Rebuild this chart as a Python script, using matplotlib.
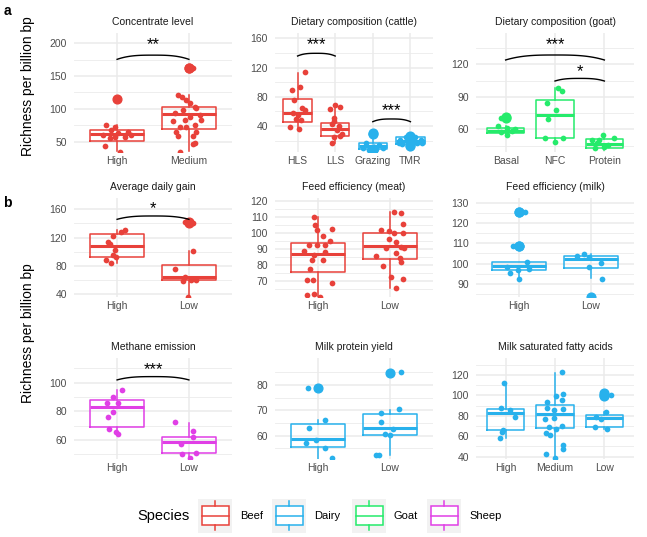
import numpy as np
import matplotlib
matplotlib.use("Agg")
import matplotlib.pyplot as plt
from matplotlib.patches import Rectangle

plt.rcParams["font.family"] = ["Liberation Sans", "DejaVu Sans"]

W, H = 647, 537

species_names = ["Beef", "Dairy", "Goat", "Sheep"]
species_colors = ["#E8413A", "#28B1EC", "#25EB6B", "#E03FE6"]

# box stats per group: q1, median, q3, lower whisker, upper whisker

# a1 Concentrate level
conc_groups = ["High", "Medium"]
conc_species = ["Beef", "Beef"]
conc_box = [[51.5, 61.0, 67.8, 36.0, 76.0], [69.0, 92.0, 103.0, 35.0, 121.0]]
conc_outliers = [[114.5], [163.0, 162.0]]
conc_values = [[114.5, 75.5, 73, 68, 65.3, 62.7, 60.2, 57.6, 57.6, 55, 43.9, 34.7, 60.2],
               [163, 162, 121.2, 118.6, 113.6, 109.5, 103.4, 100.8, 98.3, 93.2, 90.7, 88.1, 83, 82,
                83, 75.4, 72.9, 72.9, 65.3, 65.3, 58.6, 58.6, 48.5, 46.4, 34.7]]
conc_jitter = [[0.0, -0.16, -0.03, -0.08, 0.15, 0.01, -0.19, 0.11, -0.03, -0.10, -0.17, 0.04, 0.2],
               [-0.01, 0.05, -0.15, -0.09, -0.04, 0.01, 0.08, 0.10, -0.08, -0.19, 0.16, 0.02, -0.06, -0.22,
                0.17, 0.08, -0.13, -0.04, -0.18, 0.10, -0.15, 0.06, 0.08, 0.05, -0.13]]
conc_signif = [(0, 1, 175.6, 182.0, 198.5, "**")]

# a2 Dietary composition (cattle)
cattle_groups = ["HLS", "LLS", "Grazing", "TMR"]
cattle_species = ["Beef", "Beef", "Dairy", "Dairy"]
cattle_box = [[46, 57.3, 77, 36, 113], [26, 35.4, 44.5, 17, 70],
              [8.1, 13, 17.2, 5, 22], [15.4, 20, 24.5, 12, 27]]
cattle_outliers = [[], [], [31, 29, 8, 7], [26.5, 25, 14, 13]]
cattle_values = [[114, 94, 89, 76, 64, 62, 55, 50, 48, 39, 36, 58],
                 [69, 66, 63, 51, 47, 43, 40, 34, 29, 25, 17, 26],
                 [31, 29, 17.2, 14, 9.4, 11.7, 9.4, 7.1, 8],
                 [20.8, 25.3, 27.6, 24.5, 20.8, 15.4, 11.7, 16.3, 17.2, 18.6, 17.2]]
cattle_jitter = [[0.2, 0.06, -0.16, -0.1, 0.11, 0.2, 0.02, -0.04, 0.09, -0.2, 0.04, -0.12],
                 [0, 0.13, -0.15, -0.04, -0.02, -0.09, 0.1, 0.04, 0.18, -0.04, -0.09, 0.13],
                 [0, -0.04, -0.18, 0.16, -0.25, 0.02, 0.27, -0.09, 0.09],
                 [-0.27, -0.13, 0, 0.13, 0.27, -0.22, -0.04, 0.18, 0.3, 0.04, -0.3]]
cattle_signif = [(0, 1, 135.8, 139.5, 150.9, "***"), (2, 3, 45.9, 49.6, 61.0, "***")]

# a3 Dietary composition (goat)
goat_groups = ["Basal", "NFC", "Protein"]
goat_species = ["Goat", "Goat", "Goat"]
goat_box = [[56.3, 58.8, 61.5, 54.5, 63.5], [51.7, 73.2, 87, 48, 98], [42.5, 46.5, 51.4, 41, 55]]
goat_outliers = [[71.7, 70.5], [], []]
goat_values = [[71.7, 70.5, 63, 61, 58, 58.5, 54.8, 60],
               [98, 95.4, 84, 78, 69.5, 51.7, 48, 52.3],
               [54.8, 51.7, 50, 47, 44, 42.5, 46, 50]]
goat_jitter = [[0, -0.09, -0.16, 0.03, -0.09, 0.12, 0.03, 0.18],
               [0.07, 0.15, -0.17, 0.02, -0.14, -0.21, 0, 0.16],
               [-0.03, 0.19, -0.25, -0.14, 0, -0.2, 0.07, -0.1]]
goat_signif = [(0, 2, 124.0, 128.6, 137.8, "***"), (1, 2, 104.6, 107.0, 113.0, "*")]

# b1 Average daily gain
adg_groups = ["High", "Low"]
adg_species = ["Beef", "Beef"]
adg_box = [[92.2, 108.2, 124.7, 84, 131], [60.2, 64, 81.4, 36, 101.6]]
adg_outliers = [[], [142, 141]]
adg_values = [[130.8, 128.5, 122.4, 114, 111, 102.6, 95.5, 88.5, 83.8, 92],
              [142.6, 141, 141.5, 101.6, 75.3, 65, 59.3, 60.2, 60, 36.7]]
adg_jitter = [[0.11, 0.06, -0.06, -0.13, -0.1, -0.03, -0.06, -0.15, -0.08, -0.01],
              [-0.01, 0.05, -0.06, 0.06, -0.19, -0.06, -0.08, 0.1, 0.03, -0.01]]
adg_signif = [(0, 1, 145.9, 150.6, 161.4, "*")]

# b2 Feed efficiency (meat)
meat_groups = ["High", "Low"]
meat_species = ["Beef", "Beef"]
meat_box = [[75.6, 86.7, 93.3, 55, 110], [83.3, 91.7, 100, 65.2, 113]]
meat_outliers = [[], []]
meat_values = [[110, 104.8, 101.7, 97.9, 102.1, 95, 92.3, 92.3, 92.3, 88.5, 88.1, 86, 82.9, 82.9,
                77, 70.4, 70.4, 68.3, 61, 61.7, 59.6],
               [113.1, 112.1, 105.2, 101.7, 101.3, 100, 100, 96, 94.4, 91.3, 90.2, 90.2, 85.6, 87,
                84, 81.9, 79.2, 72.5, 71, 65.2]]
meat_jitter = [[-0.06, -0.05, -0.02, 0.07, 0.19, 0.17, -0.12, -0.02, 0.09, -0.19, 0.09, -0.06, -0.08, 0.07,
                -0.11, -0.15, -0.07, 0.2, -0.16, -0.06, 0.02],
               [0.06, 0.15, 0.18, -0.13, -0.01, 0.06, 0.18, -0.01, 0.09, 0.16, -0.05, 0.19, -0.2, 0.08,
                0.14, 0.16, -0.09, 0.02, 0.18, 0.08]]
meat_signif = []

# b3 Feed efficiency (milk)
milk_groups = ["High", "Low"]
milk_species = ["Dairy", "Dairy"]
milk_box = [[96.9, 98.9, 101, 92.3, 101], [97.7, 102.1, 103.8, 92.8, 104.8]]
milk_outliers = [[125.6, 125.3, 108.9, 108.7], [83.8]]
milk_values = [[125.6, 125.3, 108.9, 108.7, 101, 98.2, 95.6, 96.9, 97.2, 92.3],
               [103.8, 104.8, 103.1, 100.5, 98.2, 92.3, 83.8]]
milk_jitter = [[-0.02, 0.08, -0.08, 0.02, 0.11, -0.17, -0.13, -0.02, 0.14, 0.0],
               [-0.2, -0.09, -0.02, 0.14, -0.02, 0.15, 0.0]]
milk_signif = []

# b4 Methane emission
ch4_groups = ["High", "Low"]
ch4_species = ["Sheep", "Sheep"]
ch4_box = [[69.3, 83.3, 87.9, 64.2, 94.9], [50.7, 58.8, 61.9, 47.2, 72]]
ch4_outliers = [[], []]
ch4_values = [[94.9, 89.8, 86, 86, 79.8, 76.3, 67.4, 65.8, 64.2],
              [72.8, 66.5, 62.3, 57.2, 50.2, 51.2, 47.2]]
ch4_jitter = [[0.07, -0.06, -0.14, 0.01, -0.06, -0.13, -0.11, -0.01, 0.01],
              [-0.2, 0.05, 0.06, -0.11, -0.09, 0.1, 0.01]]
ch4_signif = [(0, 1, 101.9, 104.2, 109.3, "***")]

# b5 Milk protein yield
prot_groups = ["High", "Low"]
prot_species = ["Dairy", "Dairy"]
prot_box = [[55.7, 58.6, 64.5, 50, 66.2], [60.3, 62.9, 68.6, 52.4, 70.1]]
prot_outliers = [[78.7], [84.9]]
prot_values = [[79, 78.7, 66.4, 62.9, 58.3, 57, 55, 51],
               [84.9, 85, 70.5, 68.8, 65.5, 62.6, 60.7, 60.3, 52.4, 52.4]]
prot_jitter = [[-0.14, 0.0, 0.09, -0.12, -0.03, -0.17, 0.09, 0.2],
               [0.0, 0.16, 0.13, -0.13, -0.12, 0.04, -0.07, 0.0, -0.19, -0.15]]
prot_signif = []

# b6 Milk saturated fatty acids
sfa_groups = ["High", "Medium", "Low"]
sfa_species = ["Dairy", "Dairy", "Dairy"]
sfa_box = [[66.1, 82.4, 86.7, 58, 112], [67.8, 81.5, 90.6, 38, 122], [69.4, 77.6, 80.8, 67.1, 84]]
sfa_outliers = [[], [], [102, 100.4, 99.4]]
sfa_values = [[112.5, 87.3, 85.7, 78.5, 66.1, 64.5, 58],
              [122.6, 99.8, 101, 96, 93.9, 87.3, 85.7, 86.4, 76.6, 77.6, 69.4, 70.4, 66.8, 62.9,
               61.2, 51.4, 47.2, 42.6, 38.4],
              [102, 100.4, 99.4, 84, 79.2, 76.6, 68.7, 67.1]]
sfa_jitter = [[-0.04, -0.09, 0.08, 0.18, -0.05, -0.07, -0.12],
              [0.14, 0.03, 0.16, 0.14, -0.17, -0.16, -0.02, 0.16, -0.21, -0.03, -0.12, 0.14, 0.03, -0.19,
               -0.1, 0.17, 0.17, -0.18, 0.0],
              [-0.01, 0.14, 0.01, 0.03, -0.17, -0.07, -0.2, 0.05]]
sfa_signif = []

fig = plt.figure(figsize=(W / 100, H / 100), dpi=100)


def px_axes(left, top, width, height):
    return fig.add_axes([left / W, 1 - (top + height) / H, width / W, height / H])


def draw_panel(ax, title, groups, species, box, outliers, values, jitter, signif, ylim, majors):
    for i, g in enumerate(groups):
        c = species_colors[species_names.index(species[i])]
        q1, med, q3, lo, hi = box[i]
        stats = [dict(q1=q1, med=med, q3=q3, whislo=lo, whishi=hi, fliers=outliers[i])]
        ax.bxp(stats, positions=[i], widths=0.75, showcaps=False, showfliers=True,
               manage_ticks=False,
               boxprops=dict(color=c, lw=1.1), whiskerprops=dict(color=c, lw=1.1),
               medianprops=dict(color=c, lw=2.2),
               flierprops=dict(marker="o", markerfacecolor=c, markeredgecolor=c, markersize=6.3))
        ax.scatter(i + np.array(jitter[i]), values[i], s=17, color=c, linewidths=0, zorder=3)
    for i, j, y_end, y_peak, y_txt, lab in signif:
        xs = np.linspace(i, j, 80)
        t = (xs - i) / (j - i)
        ys = y_end + (y_peak - y_end) * (1 - np.abs(2 * t - 1) ** 3)
        ax.plot(xs, ys, color="black", lw=1.0, zorder=4)
        ax.text((i + j) / 2, y_txt, lab, ha="center", va="center", fontsize=12, zorder=4)

    ax.set_xlim(-0.6, len(groups) - 0.4)
    ax.set_ylim(ylim)
    ax.set_xticks(range(len(groups)))
    ax.set_xticklabels(groups)
    ax.set_yticks(majors)
    step = majors[1] - majors[0]
    minors = np.arange(majors[0] - step / 2, majors[-1] + step, step)
    ax.set_yticks([m for m in minors if ylim[0] <= m <= ylim[1]], minor=True)
    ax.set_axisbelow(True)
    ax.grid(which="major", color="#EBEBEB", lw=1.1)
    ax.grid(which="minor", axis="y", color="#EBEBEB", lw=0.6)
    ax.tick_params(which="both", length=0, labelsize=7.5, labelcolor="#4D4D4D")
    ax.tick_params(axis="y", pad=5)
    ax.tick_params(axis="x", pad=3)
    for s in ax.spines.values():
        s.set_visible(False)
    ax.set_title(title, fontsize=7.5, color="#1A1A1A", pad=6)


col_left = [74, 275, 476]
col_w = 158

ax = px_axes(col_left[0], 33, col_w, 119)
draw_panel(ax, "Concentrate level", conc_groups, conc_species, conc_box, conc_outliers,
           conc_values, conc_jitter, conc_signif, (34.2, 215.8), [50, 100, 150, 200])
ax = px_axes(col_left[1], 33, col_w, 119)
draw_panel(ax, "Dietary composition (cattle)", cattle_groups, cattle_species, cattle_box, cattle_outliers,
           cattle_values, cattle_jitter, cattle_signif, (4.4, 167.3), [40, 80, 120, 160])
ax = px_axes(col_left[2], 33, col_w, 119)
draw_panel(ax, "Dietary composition (goat)", goat_groups, goat_species, goat_box, goat_outliers,
           goat_values, goat_jitter, goat_signif, (39.1, 148.9), [60, 90, 120])

ax = px_axes(col_left[0], 198, col_w, 99)
draw_panel(ax, "Average daily gain", adg_groups, adg_species, adg_box, adg_outliers,
           adg_values, adg_jitter, adg_signif, (36.2, 176.0), [40, 80, 120, 160])
ax = px_axes(col_left[1], 198, col_w, 99)
draw_panel(ax, "Feed efficiency (meat)", meat_groups, meat_species, meat_box, meat_outliers,
           meat_values, meat_jitter, meat_signif, (59.8, 121.7), [70, 80, 90, 100, 110, 120])
ax = px_axes(col_left[2], 198, col_w, 99)
draw_panel(ax, "Feed efficiency (milk)", milk_groups, milk_species, milk_box, milk_outliers,
           milk_values, milk_jitter, milk_signif, (83.6, 132.3), [90, 100, 110, 120, 130])

ax = px_axes(col_left[0], 358, col_w, 101)
draw_panel(ax, "Methane emission", ch4_groups, ch4_species, ch4_box, ch4_outliers,
           ch4_values, ch4_jitter, ch4_signif, (46.7, 117.2), [60, 80, 100])
ax = px_axes(col_left[1], 358, col_w, 101)
draw_panel(ax, "Milk protein yield", prot_groups, prot_species, prot_box, prot_outliers,
           prot_values, prot_jitter, prot_signif, (50.8, 90.7), [60, 70, 80])
ax = px_axes(col_left[2], 358, col_w, 101)
draw_panel(ax, "Milk saturated fatty acids", sfa_groups, sfa_species, sfa_box, sfa_outliers,
           sfa_values, sfa_jitter, sfa_signif, (37.7, 136.7), [40, 60, 80, 100, 120])

# panel letters and y labels
fig.text(7 / W, 1 - 11 / H, "a", fontsize=10, fontweight="bold", ha="center", va="center")
fig.text(7 / W, 1 - 203 / H, "b", fontsize=10, fontweight="bold", ha="center", va="center")
fig.text(28 / W, 1 - 86 / H, "Richness per billion bp", fontsize=10, rotation=90, ha="center", va="center")
fig.text(28 / W, 1 - 333 / H, "Richness per billion bp", fontsize=10, rotation=90, ha="center", va="center")

# legend
lg = fig.add_axes([0, 0, 1, 1], zorder=-1)
lg.set_xlim(0, W)
lg.set_ylim(H, 0)
lg.axis("off")
lg.text(137, 516, "Species", fontsize=10.5, ha="left", va="center")
key_left = [198, 272, 352, 427]
for k, name in enumerate(species_names):
    x0 = key_left[k]
    c = species_colors[k]
    lg.add_patch(Rectangle((x0, 499), 34, 34, facecolor="#F2F2F2", edgecolor="none"))
    lg.add_patch(Rectangle((x0 + 3.5, 506), 27, 19, facecolor="white", edgecolor=c, lw=1.1))
    lg.plot([x0 + 3.5, x0 + 30.5], [515.5, 515.5], color=c, lw=1.1)
    lg.plot([x0 + 17, x0 + 17], [501, 506], color=c, lw=1.1)
    lg.plot([x0 + 17, x0 + 17], [525, 530], color=c, lw=1.1)
    lg.text(x0 + 42, 516, name, fontsize=8, ha="left", va="center")

fig.savefig("out.png", dpi=100)
